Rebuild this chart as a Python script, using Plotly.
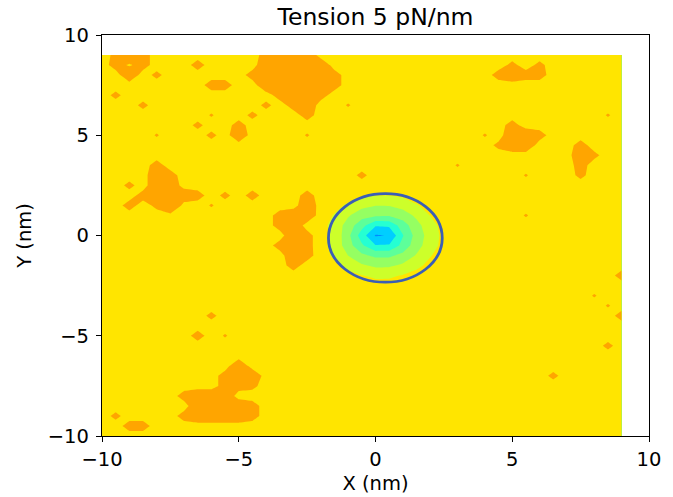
import numpy as np
import plotly.graph_objects as go

# ---- grid of the field (nm) ----
x_nm = np.arange(-10, 9.01, 0.5)
y_nm = np.arange(-10, 9.01, 0.5)

baseline = 6.0
# values of raised points (orange patches)
level_value = {"z": 6.6, "a": 6.8, "b": 7.0, "o": 7.5, "O": 8.5, "-": 6.35}
patches = [
    (-9.5, 9.0, "a"), (-9.0, 9.0, "o"), (-8.5, 9.0, "b"), (-4.0, 9.0, "b"), (-3.5, 9.0, "o"), (-3.0, 9.0, "o"), (-2.5, 9.0, "o"),
    (-9.5, 8.5, "b"), (-9.0, 8.5, "-"), (-8.5, 8.5, "b"), (-6.5, 8.5, "b"), (-4.0, 8.5, "o"), (-3.5, 8.5, "O"), (-3.0, 8.5, "O"),
    (-2.5, 8.5, "O"), (-2.0, 8.5, "o"), (5.0, 8.5, "a"), (6.0, 8.5, "a"),
    (-9.0, 8.0, "o"), (-8.0, 8.0, "a"), (-4.5, 8.0, "b"), (-4.0, 8.0, "O"), (-3.5, 8.0, "O"), (-3.0, 8.0, "O"), (-2.5, 8.0, "O"),
    (-2.0, 8.0, "O"), (-1.5, 8.0, "b"), (4.5, 8.0, "b"), (5.0, 8.0, "o"), (5.5, 8.0, "b"), (6.0, 8.0, "b"),
    (-6.0, 7.5, "b"), (-5.5, 7.5, "b"), (-4.0, 7.5, "o"), (-3.5, 7.5, "o"), (-3.0, 7.5, "O"), (-2.5, 7.5, "O"), (-2.0, 7.5, "o"),
    (-1.5, 7.5, "b"),
    (-9.5, 7.0, "a"), (-3.5, 7.0, "b"), (-3.0, 7.0, "o"), (-2.5, 7.0, "o"), (-2.0, 7.0, "b"),
    (-8.5, 6.5, "a"), (-4.0, 6.5, "a"), (-3.0, 6.5, "b"), (-2.5, 6.5, "o"), (-1.0, 6.5, "z"),
    (-6.0, 6.0, "z"), (-4.5, 6.0, "a"), (-2.5, 6.0, "b"), (8.5, 6.0, "z"),
    (-6.5, 5.5, "a"), (-5.0, 5.5, "b"), (5.0, 5.5, "b"),
    (-8.0, 5.0, "z"), (-6.0, 5.0, "a"), (-5.0, 5.0, "o"), (-2.5, 5.0, "z"), (4.0, 5.0, "z"), (5.0, 5.0, "o"), (5.5, 5.0, "o"),
    (6.0, 5.0, "b"),
    (4.5, 4.5, "a"), (5.0, 4.5, "o"), (5.5, 4.5, "o"), (7.5, 4.5, "b"),
    (7.5, 4.0, "o"), (8.0, 4.0, "a"),
    (-8.0, 3.5, "b"), (3.0, 3.5, "z"), (7.5, 3.5, "b"),
    (-8.0, 3.0, "o"), (-7.5, 3.0, "b"), (-0.5, 3.0, "a"), (5.5, 3.0, "z"), (7.5, 3.0, "a"),
    (-9.0, 2.5, "a"), (-8.0, 2.5, "o"), (-7.5, 2.5, "o"),
    (-8.5, 2.0, "b"), (-8.0, 2.0, "o"), (-7.5, 2.0, "o"), (-7.0, 2.0, "o"), (-6.5, 2.0, "b"), (-5.5, 2.0, "a"), (-4.5, 2.0, "b"),
    (-2.5, 2.0, "b"),
    (-9.0, 1.5, "b"), (-8.0, 1.5, "a"), (-7.5, 1.5, "O"), (-6.0, 1.5, "z"), (-2.5, 1.5, "o"),
    (-3.5, 1.0, "b"), (-3.0, 1.0, "o"), (-2.5, 1.0, "o"), (5.5, 1.0, "z"),
    (-3.5, 0.5, "b"), (-3.0, 0.5, "o"),
    (-3.0, 0.0, "o"), (-2.5, 0.0, "b"),
    (-3.5, -0.5, "b"), (-3.0, -0.5, "o"), (-2.5, -0.5, "b"),
    (-3.0, -1.0, "o"), (-2.5, -1.0, "b"),
    (-3.0, -1.5, "b"),
    (9.0, -2.0, "b"),
    (8.0, -3.0, "z"),
    (8.5, -3.5, "z"),
    (-6.0, -4.0, "a"), (9.0, -4.0, "b"),
    (-6.5, -5.0, "b"), (-5.5, -5.0, "z"),
    (8.5, -5.5, "a"),
    (-5.0, -6.5, "o"),
    (-5.5, -7.0, "b"), (-5.0, -7.0, "o"), (-4.5, -7.0, "o"), (6.5, -7.0, "a"),
    (-5.5, -7.5, "b"), (-5.0, -7.5, "b"), (-4.5, -7.5, "a"),
    (-7.0, -8.0, "b"), (-6.5, -8.0, "o"), (-6.0, -8.0, "o"), (-5.5, -8.0, "o"),
    (-6.5, -8.5, "o"), (-6.0, -8.5, "O"), (-5.5, -8.5, "O"), (-5.0, -8.5, "o"), (-4.5, -8.5, "b"),
    (-9.5, -9.0, "a"), (-7.0, -9.0, "b"), (-6.5, -9.0, "o"), (-6.0, -9.0, "o"), (-5.5, -9.0, "o"), (-5.0, -9.0, "o"),
    (-4.5, -9.0, "b"),
    (-9.0, -9.5, "b"), (-8.5, -9.5, "b"),
]

# central depression
bump_x = [-2.5, -2.0, -1.5, -1.0, -0.5, 0.0, 0.5, 1.0, 1.5, 2.0, 2.5, 3.0]
bump_y = [2.5, 2.0, 1.5, 1.0, 0.5, 0.0, -0.5, -1.0, -1.5, -2.0, -2.5]
bump_z = [
    [6.00, 6.00, 6.00, 6.00, 6.00, 6.00, 6.00, 6.00, 6.00, 6.00, 6.00, 6.00],
    [6.00, 6.00, 6.00, 5.87, 5.64, 5.51, 5.52, 5.66, 5.91, 6.00, 6.00, 6.00],
    [6.00, 6.00, 5.79, 5.34, 4.82, 4.53, 4.55, 4.87, 5.42, 5.84, 6.00, 6.00],
    [6.00, 5.95, 5.43, 4.62, 3.88, 3.65, 3.60, 3.96, 4.71, 5.52, 6.00, 6.00],
    [6.00, 5.80, 5.20, 4.03, 2.85, 1.60, 1.70, 3.01, 4.15, 5.12, 5.83, 6.00],
    [6.00, 5.80, 5.30, 3.77, 2.00, 0.40, 0.55, 2.44, 3.90, 4.96, 5.76, 6.00],
    [6.00, 5.80, 5.20, 3.94, 2.66, 1.55, 1.60, 2.83, 4.07, 5.07, 5.80, 6.00],
    [6.00, 5.91, 5.33, 4.49, 3.70, 3.30, 3.30, 3.79, 4.59, 5.43, 5.97, 6.00],
    [6.00, 6.00, 5.72, 5.19, 4.64, 4.31, 4.34, 4.69, 5.27, 5.77, 6.00, 6.00],
    [6.00, 6.00, 6.00, 5.78, 5.53, 5.32, 5.34, 5.56, 5.81, 6.00, 6.00, 6.00],
    [6.00, 6.00, 6.00, 6.00, 6.00, 5.85, 5.85, 6.00, 6.00, 6.00, 6.00, 6.00],
]

# contour levels and band colours (low -> high); the first band lies below
# every value and only colours the background under the filled bands
level_start, level_end, level_step = -0.5, 6.5, 1.0
band_colors = ["#FFE500",
               "#0089FF", "#00CEFF", "#25FFD2", "#5DFF9A",
               "#95FF62", "#CDFF2A", "#FFE500", "#FFA500"]

# ellipse outline
ell_cx, ell_cy, ell_rx, ell_ry = 0.36, -0.12, 2.08, 2.21

# ---- build field ----
Z = np.full((len(y_nm), len(x_nm)), baseline)


def idx(v):
    return int(round((v + 10) / 0.5))


for px, py, code in patches:
    Z[idx(py), idx(px)] = level_value[code]
for r, by in enumerate(bump_y):
    for c, bx in enumerate(bump_x):
        Z[idx(by), idx(bx)] += bump_z[r][c] - baseline

nb = len(band_colors)
colorscale = []
for k, col in enumerate(band_colors):
    colorscale.append([k / nb, col])
    colorscale.append([(k + 1) / nb, col])

fig = go.Figure()
fig.add_trace(go.Contour(
    x=x_nm, y=y_nm, z=Z,
    autocontour=False,
    contours=dict(start=level_start, end=level_end, size=level_step,
                  coloring="fill", showlines=False),
    line=dict(width=0, smoothing=0),
    colorscale=colorscale, showscale=False, hoverinfo="skip",
))

fig.add_shape(type="circle", xref="x", yref="y",
              x0=ell_cx - ell_rx, x1=ell_cx + ell_rx,
              y0=ell_cy - ell_ry, y1=ell_cy + ell_ry,
              line=dict(color="#3B5EB5", width=2.8))

font = "DejaVu Sans, Arial, sans-serif"
ticks = [-10, -5, 0, 5, 10]
ticktext = [("\u2212" + str(abs(t))) if t < 0 else str(t) for t in ticks]
axis_common = dict(
    range=[-10, 10], tickvals=ticks, ticktext=ticktext,
    ticks="outside", ticklen=5, tickwidth=1.3, tickcolor="black",
    showline=True, linecolor="black", linewidth=1.3, mirror=True,
    showgrid=False, zeroline=False, automargin=False,
    tickfont=dict(family=font, size=19.5, color="black"),
)
fig.update_layout(
    width=673, height=497,
    margin=dict(l=102, r=24, t=35, b=61),
    paper_bgcolor="white", plot_bgcolor="white",
    title=dict(text="Tension 5 pN/nm", x=0.5, xref="paper", xanchor="center",
               y=1 - 17 / 497, yref="container", yanchor="middle",
               font=dict(family=font, size=23.5, color="black")),
    xaxis=dict(**axis_common,
               title=dict(text="X (nm)", standoff=6,
                          font=dict(family=font, size=19.5, color="black"))),
    yaxis=dict(**axis_common, ticklabelstandoff=3,
               title=dict(text="Y (nm)", standoff=10,
                          font=dict(family=font, size=19.5, color="black"))),
    showlegend=False,
)

fig.write_html("out.html")
